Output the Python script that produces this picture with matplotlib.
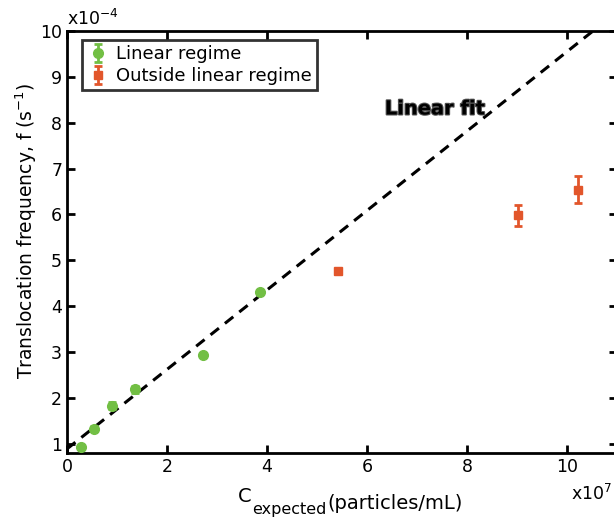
import numpy as np
import matplotlib
matplotlib.use("Agg")
import matplotlib.pyplot as plt
import matplotlib.patheffects as pe

# x in units of 1e7 particles/mL, y in units of 1e-4 s^-1
lin_c = [0.27, 0.54, 0.89, 1.36, 2.71, 3.86]
lin_f = [0.94, 1.33, 1.83, 2.19, 2.93, 4.30]
lin_err = [0.03, 0.05, 0.08, 0.08, 0.03, 0.03]

out_c = [5.41, 9.02, 10.22]
out_f = [4.76, 5.98, 6.54]
out_err = [0.06, 0.23, 0.30]

fit_slope = 0.866
fit_intercept = 0.89

green = "#72bf44"
orange = "#e2562b"

plt.rcParams["font.family"] = "DejaVu Sans"

fig = plt.figure(figsize=(6.14, 5.18), dpi=100)
ax = fig.add_axes([67 / 614, 65 / 518, 550 / 614, 422 / 518])

xfit = np.array([0, 11])
ax.plot(xfit, fit_intercept + fit_slope * xfit, color="black", lw=2.2,
        dashes=(3.5, 2.5), zorder=1)

ax.errorbar(lin_c, lin_f, yerr=lin_err, fmt="o", color=green, ms=7,
            elinewidth=2, capsize=3, capthick=2, label="Linear regime", zorder=3)
ax.errorbar(out_c, out_f, yerr=out_err, fmt="s", color=orange, ms=6,
            elinewidth=2, capsize=3, capthick=2,
            label="Outside linear regime", zorder=3)

ax.text(7.36, 8.3, "Linear fit", fontsize=14, fontweight="bold", ha="center",
        va="center",
        path_effects=[pe.withStroke(linewidth=1.5, foreground="#555555")])

ax.set_xlim(0, 11)
ax.set_ylim(0.8, 10)
ax.set_xticks([0, 2, 4, 6, 8, 10])
ax.set_yticks(range(1, 11))
ax.tick_params(direction="in", length=6, width=2, labelsize=12.5,
               top=True, right=True)
for s in ax.spines.values():
    s.set_linewidth(2)

# x label built from pieces so the subscript stays large
t1 = fig.text(238 / 614, 1 - 502 / 518, "C", fontsize=14, ha="left",
              va="baseline")
t2 = ax.annotate("expected", xy=(1, 0), xycoords=t1, xytext=(0.5, -6),
                 textcoords="offset points", fontsize=11.5, ha="left",
                 va="baseline", annotation_clip=False)
ax.annotate("(particles/mL)", xy=(1, 0), xycoords=t2, xytext=(0.5, 6),
            textcoords="offset points", fontsize=14, ha="left", va="baseline",
            annotation_clip=False)

ax.set_ylabel("Translocation frequency, f (s$^{\\mathrm{-1}}$)", fontsize=13.5)
ax.yaxis.set_label_coords(-0.05, 0.526)

ax.text(0.0, 1.005, "x10$^{\\mathrm{-4}}$", transform=ax.transAxes,
        fontsize=12.5, ha="left", va="bottom")
fig.text(612 / 614, 1 - 484 / 518, "x10$^{\\mathrm{7}}$", fontsize=12.5,
         ha="right", va="top")

leg = ax.legend(loc="upper left", bbox_to_anchor=(0.027, 0.979), fontsize=13,
                frameon=True, fancybox=False, edgecolor="black",
                borderaxespad=0, borderpad=0.3, labelspacing=0.2,
                handletextpad=0.4, handlelength=1.2)
leg.get_frame().set_linewidth(2)

fig.savefig("out.png", dpi=100)
